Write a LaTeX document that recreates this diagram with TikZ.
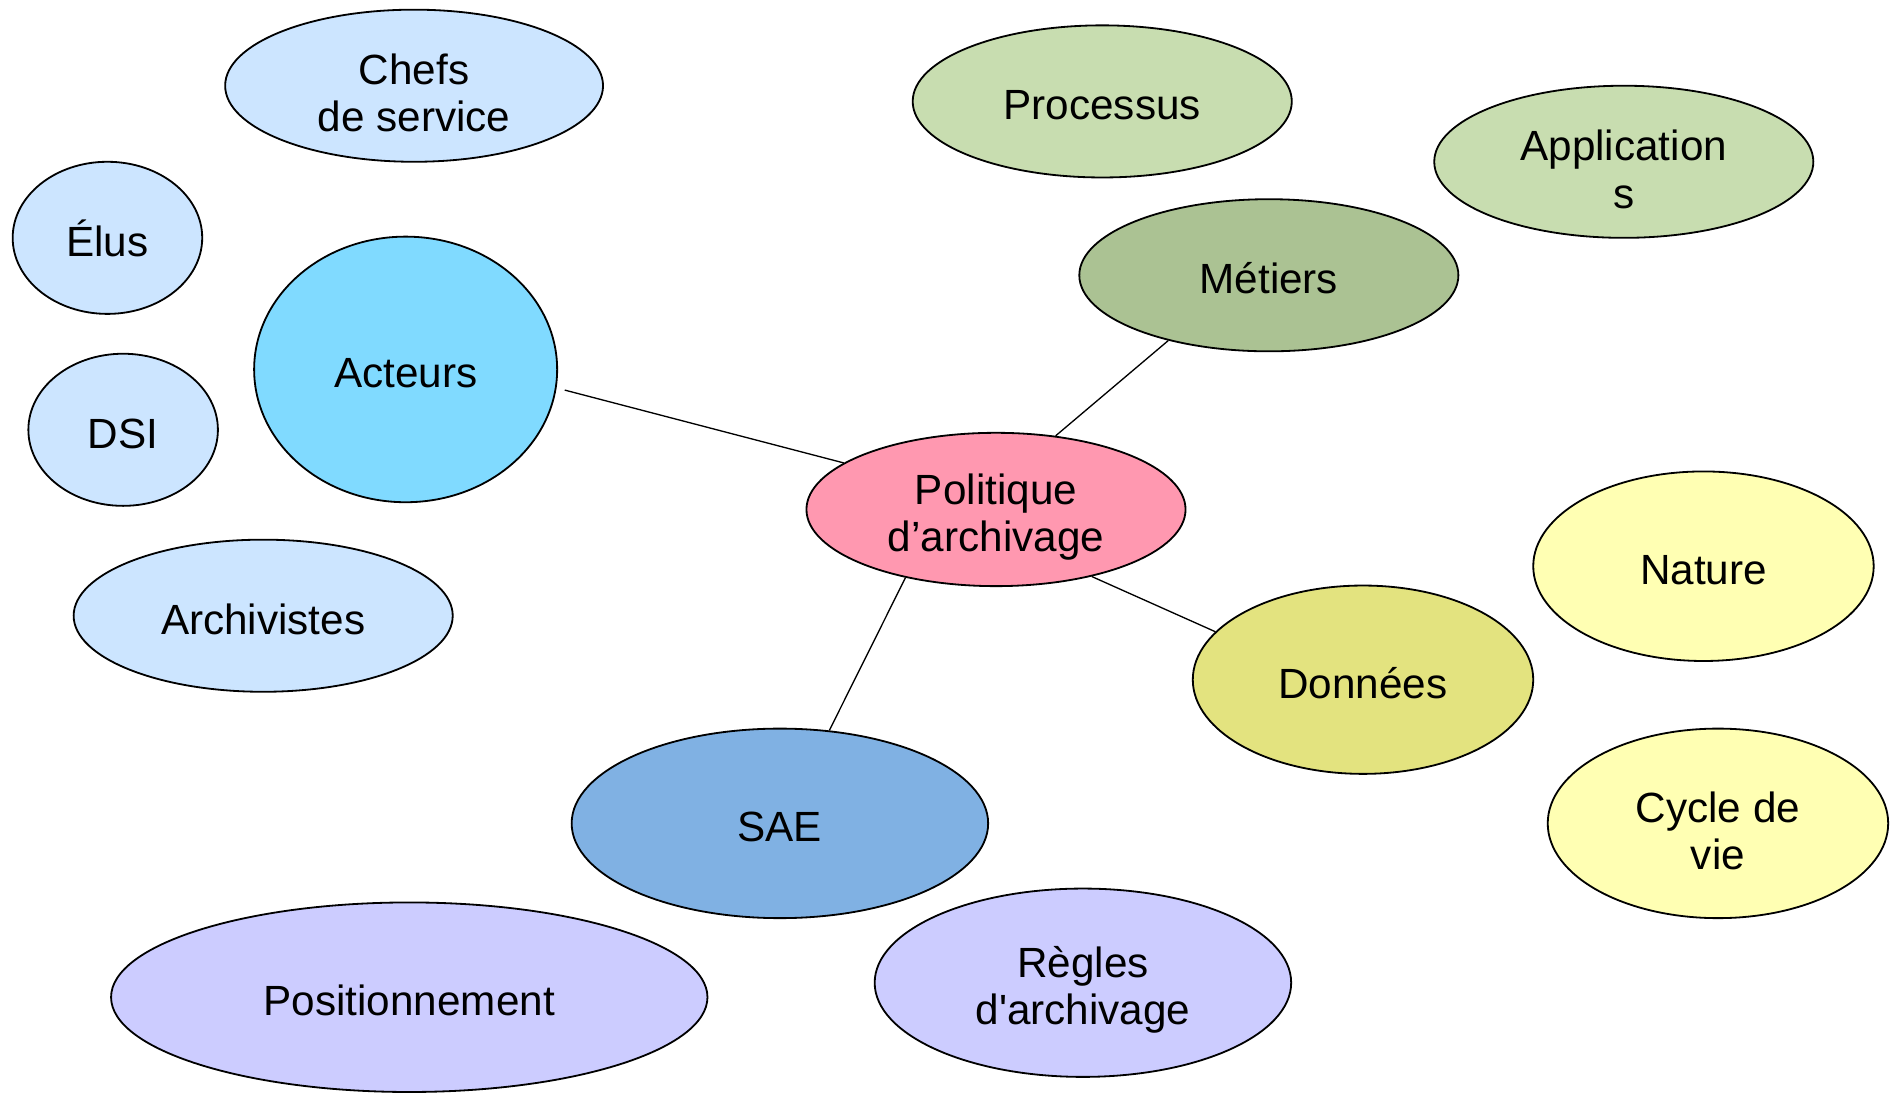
\documentclass[tikz,border=0pt]{standalone}
\usepackage{fontspec}
\newfontfamily\lsans{Liberation Sans}
\usetikzlibrary{shapes.geometric}

\definecolor{paleblue}{HTML}{CCE5FF}
\definecolor{cyanblue}{HTML}{80DAFF}
\definecolor{palegreen}{HTML}{C8DDB0}
\definecolor{sagegreen}{HTML}{ABC293}
\definecolor{rosepink}{HTML}{FF98B0}
\definecolor{paleyellow}{HTML}{FFFFB3}
\definecolor{olivey}{HTML}{E3E37F}
\definecolor{midblue}{HTML}{80B1E3}
\definecolor{lavender}{HTML}{CCCCFF}

% struts that push the label a little below the ellipse centre
\newcommand{\onestrut}{\rule{0pt}{15.5pt}}
\newcommand{\twostrut}{\rule{0pt}{19pt}}

\tikzset{
  bubble/.style args={#1/#2/#3}{ellipse, draw=black, line width=0.75pt,
    fill=#1, inner sep=0pt, minimum width=#2*0.5pt, minimum height=#3*0.5pt,
    align=center, font=\lsans\fontsize{17.5}{19.5}\selectfont},
  link/.style={draw=black, line width=0.55pt}
}

\begin{document}
\begin{tikzpicture}[x=0.5pt, y=-0.5pt]
  \useasboundingbox[fill=white] (0,0) rectangle (1568,905);

  % actors branch
  \node[bubble=paleblue/313/126]  (chefs) at (343,71)  {\twostrut Chefs\\de service};
  \node[bubble=paleblue/157/126]  (elus)  at (89,197)  {\onestrut Élus};
  \node[bubble=paleblue/157/126]  (dsi)   at (102,356) {\onestrut DSI};
  \node[bubble=cyanblue/251/220]  (act)   at (336,306) {\onestrut Acteurs};
  \node[bubble=paleblue/314/126]  (arch)  at (218,510) {\onestrut Archivistes};

  % business branch
  \node[bubble=palegreen/314/126] (proc)  at (913,84)   {\onestrut Processus};
  \node[bubble=palegreen/314/126] (appl)  at (1345,134) {\twostrut Application\\s};
  \node[bubble=sagegreen/314/126] (met)   at (1051,228) {\onestrut Métiers};

  % centre
  \node[bubble=rosepink/314/127]  (pol)   at (825,422)  {\twostrut Politique\\d’archivage};

  % data branch
  \node[bubble=paleyellow/282/157] (nat)  at (1411,469) {\onestrut Nature};
  \node[bubble=olivey/282/156]     (don)  at (1129,563) {\onestrut Données};
  \node[bubble=paleyellow/282/157] (cyc)  at (1423,682) {\twostrut Cycle de\\vie};

  % SAE branch
  \node[bubble=midblue/345/157]   (sae)   at (646,682)  {\onestrut SAE};
  \node[bubble=lavender/494/157]  (pos)   at (339,826)  {\onestrut Positionnement};
  \node[bubble=lavender/345/156]  (regl)  at (897,814)  {\twostrut Règles\\d'archivage};

  % connectors from the centre
  \draw[link, shorten <=3.5pt] (act.-7) -- (pol.163);
  \draw[link] (met.213)  -- (pol.51);
  \draw[link] (pol.-35)  -- (don.162);
  \draw[link] (pol.217)  -- (sae.62);
\end{tikzpicture}
\end{document}
